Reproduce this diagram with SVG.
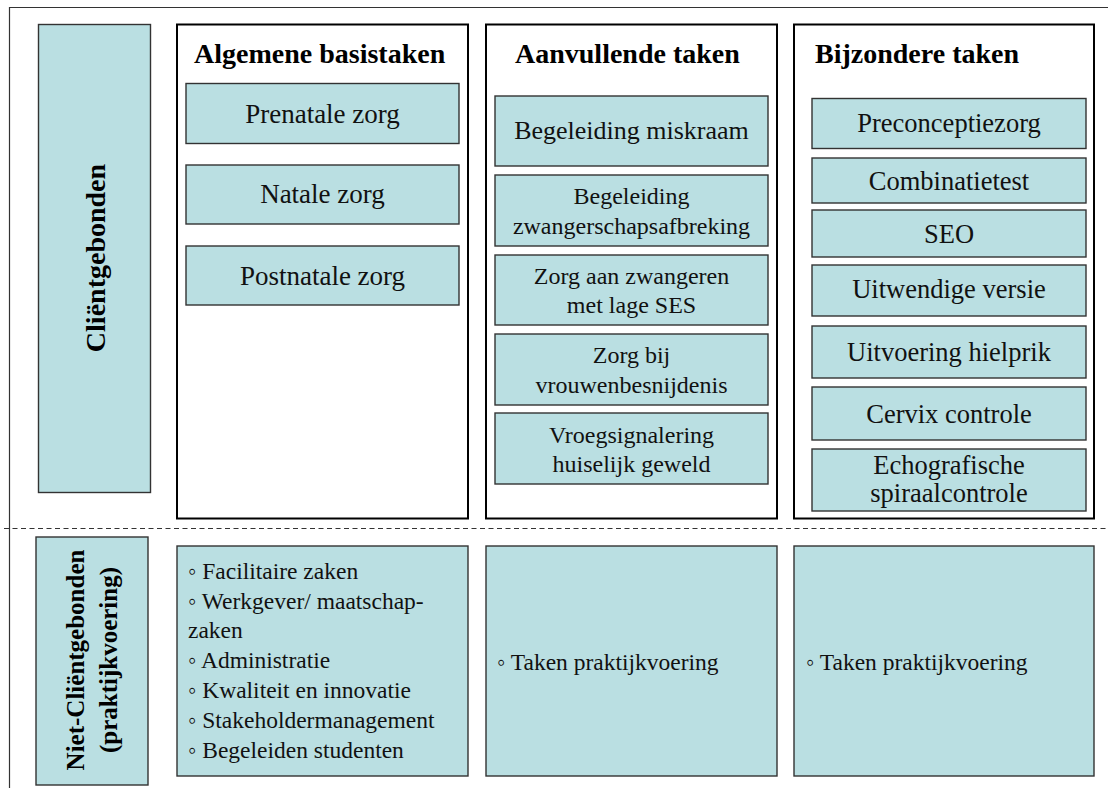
<svg xmlns="http://www.w3.org/2000/svg" width="1108" height="788" viewBox="0 0 1108 788">
<style>
.col{fill:#ffffff;stroke:#000;stroke-width:2}
.tb{fill:#badfe2;stroke:#333;stroke-width:1.4}
.frame{stroke:#333;stroke-width:1.2;fill:none}
.dash{stroke:#333;stroke-width:1.2;stroke-dasharray:5 3.5;fill:none}
</style>
<rect width="1108" height="788" fill="#ffffff"/>
<g id="frame">
<path class="frame" d="M9.5 788 V7.5 H1108"/>
<path class="dash" d="M4 528.5 H1108"/>
</g>
<g id="label-clientgebonden">
<rect class="tb" x="38.5" y="24.5" width="112" height="468"/>
<text font-family="Liberation Serif" font-weight="bold" font-size="28" text-anchor="middle" fill="#000" transform="translate(105,258) rotate(-90)">Cliëntgebonden</text>
</g>
<g id="col-algemeen">
<rect class="col" x="177" y="24.5" width="291" height="494"/>
<text font-family="Liberation Serif" font-weight="bold" font-size="28" fill="#000" x="194" y="63">Algemene basistaken</text>
</g>
<g id="col-aanvullend">
<rect class="col" x="486" y="24.5" width="291" height="494"/>
<text font-family="Liberation Serif" font-weight="bold" font-size="28" fill="#000" x="515" y="63">Aanvullende taken</text>
</g>
<g id="col-bijzonder">
<rect class="col" x="794" y="24.5" width="300" height="494"/>
<text font-family="Liberation Serif" font-weight="bold" font-size="28" fill="#000" x="815" y="63">Bijzondere taken</text>
</g>
<g id="col1-items" font-family="Liberation Serif" font-size="27" text-anchor="middle" fill="#111">
<g id="prenatale">
<rect class="tb" x="186" y="83.5" width="273" height="60"/>
<text font-family="Liberation Serif" x="322.5" y="123">Prenatale zorg</text>
</g>
<g id="natale">
<rect class="tb" x="186" y="165" width="273" height="59"/>
<text font-family="Liberation Serif" x="322.5" y="203">Natale zorg</text>
</g>
<g id="postnatale">
<rect class="tb" x="186" y="246" width="273" height="59"/>
<text font-family="Liberation Serif" x="322.5" y="285">Postnatale zorg</text>
</g>
</g>
<g id="col2-items" font-family="Liberation Serif" font-size="24" text-anchor="middle" fill="#111">
<g id="miskraam">
<rect class="tb" x="495" y="96" width="273" height="70"/>
<text font-family="Liberation Serif" font-size="26" x="631.5" y="139">Begeleiding miskraam</text>
</g>
<g id="zwangerschapsafbreking">
<rect class="tb" x="495" y="175" width="273" height="71"/>
<text font-family="Liberation Serif" x="631.5" y="204">Begeleiding</text>
<text font-family="Liberation Serif" x="631.5" y="234">zwangerschapsafbreking</text>
</g>
<g id="lage-ses">
<rect class="tb" x="495" y="255" width="273" height="70"/>
<text font-family="Liberation Serif" x="631.5" y="284">Zorg aan zwangeren</text>
<text font-family="Liberation Serif" x="631.5" y="313">met lage SES</text>
</g>
<g id="vrouwenbesnijdenis">
<rect class="tb" x="495" y="334" width="273" height="71"/>
<text font-family="Liberation Serif" x="631.5" y="363">Zorg bij</text>
<text font-family="Liberation Serif" x="631.5" y="393">vrouwenbesnijdenis</text>
</g>
<g id="huiselijk-geweld">
<rect class="tb" x="495" y="413" width="273" height="71"/>
<text font-family="Liberation Serif" x="631.5" y="443">Vroegsignalering</text>
<text font-family="Liberation Serif" x="631.5" y="472">huiselijk geweld</text>
</g>
</g>
<g id="col3-items" font-family="Liberation Serif" font-size="26.5" text-anchor="middle" fill="#111">
<g id="preconceptiezorg">
<rect class="tb" x="812" y="98.5" width="274" height="50"/>
<text font-family="Liberation Serif" x="949" y="132">Preconceptiezorg</text>
</g>
<g id="combinatietest">
<rect class="tb" x="812" y="158" width="274" height="45"/>
<text font-family="Liberation Serif" x="949" y="190">Combinatietest</text>
</g>
<g id="seo">
<rect class="tb" x="812" y="210" width="274" height="47"/>
<text font-family="Liberation Serif" x="949" y="243">SEO</text>
</g>
<g id="uitwendige-versie">
<rect class="tb" x="812" y="265" width="274" height="51"/>
<text font-family="Liberation Serif" x="949" y="298">Uitwendige versie</text>
</g>
<g id="hielprik">
<rect class="tb" x="812" y="326" width="274" height="52"/>
<text font-family="Liberation Serif" x="949" y="361">Uitvoering hielprik</text>
</g>
<g id="cervix">
<rect class="tb" x="812" y="387" width="274" height="53"/>
<text font-family="Liberation Serif" x="949" y="423">Cervix controle</text>
</g>
<g id="spiraalcontrole">
<rect class="tb" x="812" y="449" width="274" height="62"/>
<text font-family="Liberation Serif" x="949" y="474">Echografische</text>
<text font-family="Liberation Serif" x="949" y="502">spiraalcontrole</text>
</g>
</g>
<g id="label-niet-clientgebonden">
<rect class="tb" x="36" y="537" width="112" height="248"/>
<text font-family="Liberation Serif" font-weight="bold" font-size="25" text-anchor="middle" fill="#000" transform="translate(84,660) rotate(-90)">Niet-Cliëntgebonden</text>
<text font-family="Liberation Serif" font-weight="bold" font-size="25" text-anchor="middle" fill="#000" transform="translate(117,660) rotate(-90)">(praktijkvoering)</text>
</g>
<g id="bottom-items" font-family="Liberation Serif" font-size="23.5" fill="#111">
<g id="praktijk-algemeen">
<rect class="tb" x="177" y="546" width="291" height="230"/>
<text font-family="Liberation Serif" x="188" y="579">◦ Facilitaire zaken</text>
<text font-family="Liberation Serif" x="188" y="609">◦ Werkgever/ maatschap-</text>
<text font-family="Liberation Serif" x="188" y="638">zaken</text>
<text font-family="Liberation Serif" x="188" y="668">◦ Administratie</text>
<text font-family="Liberation Serif" x="188" y="698">◦ Kwaliteit en innovatie</text>
<text font-family="Liberation Serif" x="188" y="728">◦ Stakeholdermanagement</text>
<text font-family="Liberation Serif" x="188" y="758">◦ Begeleiden studenten</text>
</g>
<g id="praktijk-aanvullend">
<rect class="tb" x="486" y="546" width="291" height="230"/>
<text font-family="Liberation Serif" x="497" y="670">◦ Taken praktijkvoering</text>
</g>
<g id="praktijk-bijzonder">
<rect class="tb" x="794" y="546" width="300" height="230"/>
<text font-family="Liberation Serif" x="806" y="670">◦ Taken praktijkvoering</text>
</g>
</g>
<g id="connectors"></g>
</svg>
